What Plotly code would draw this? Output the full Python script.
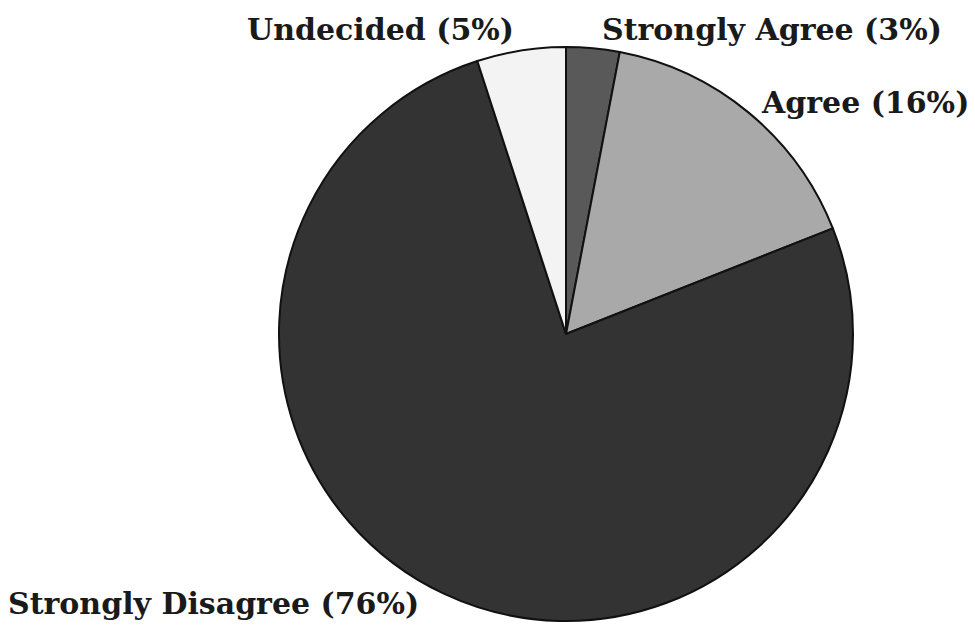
import plotly.graph_objects as go

# Survey responses, shares in percent (clockwise from 12 o'clock)
categories = ["Strongly Agree", "Agree", "Strongly Disagree", "Undecided"]
shares = [3, 16, 76, 5]
slice_colors = ["#595959", "#a9a9a9", "#333333", "#f3f3f3"]

# Label anchor points in paper coordinates (x center, y center)
label_xy = {
    "Strongly Agree": (0.792, 0.953),
    "Agree": (0.887, 0.838),
    "Strongly Disagree": (0.219, 0.042),
    "Undecided": (0.390, 0.953),
}

W, H = 975, 630
cx, cy, r = 566, 334, 287

fig = go.Figure(
    go.Pie(
        labels=categories,
        values=shares,
        sort=False,
        direction="clockwise",
        rotation=0,
        marker=dict(colors=slice_colors, line=dict(color="#111111", width=2)),
        textinfo="none",
        hoverinfo="label+percent",
        showlegend=False,
        domain=dict(
            x=[(cx - r) / W, (cx + r) / W],
            y=[(H - cy - r) / H, (H - cy + r) / H],
        ),
    )
)

for cat, val in zip(categories, shares):
    x, y = label_xy[cat]
    fig.add_annotation(
        x=x, y=y, xref="paper", yref="paper",
        text=f"<b>{cat} ({val}%)</b>",
        showarrow=False,
        xanchor="center", yanchor="middle",
        font=dict(family="DejaVu Serif", size=30, color="#1a1a1a"),
    )

fig.update_layout(
    width=W, height=H,
    margin=dict(l=0, r=0, t=0, b=0),
    paper_bgcolor="white",
    plot_bgcolor="white",
)

fig.write_html("out.html")
